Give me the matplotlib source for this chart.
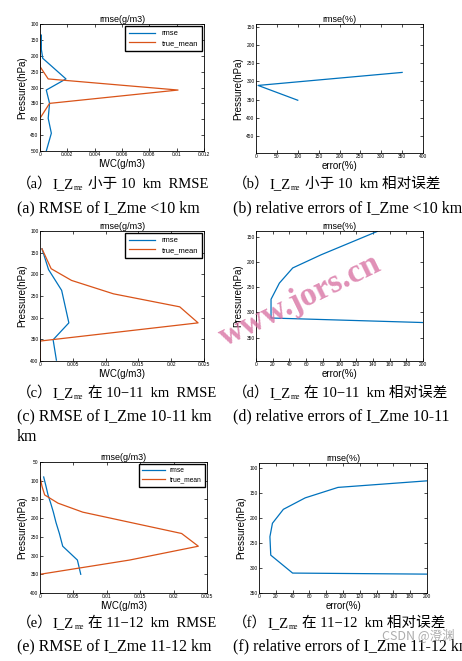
import matplotlib
matplotlib.use('Agg')
import matplotlib.pyplot as plt

plt.rcParams['font.family'] = ['Liberation Sans', 'DejaVu Sans']

# (a) I_Zme < 10 km, IWC
a_rmse_p = [135, 180, 208, 273, 308, 350, 397, 444, 500]
a_rmse = [0.0001, 0.0001, 0.0002, 0.0019, 0.00046, 0.0007, 0.0006, 0.00083, 0.00046]
a_true_p = [135, 234, 273, 308, 350, 397, 500]
a_true = [0, 0, 0.0006, 0.0101, 0.0007, 0, 0]

# (b) relative error < 10 km
b_p = [275, 311, 352]
b_err = [350, 5, 100]

# (c) 10-11 km
c_rmse_p = [141, 189, 237, 312, 351, 398]
c_rmse = [0.0003, 0.0013, 0.0033, 0.0044, 0.002, 0.0025]
c_true_p = [141, 187, 214, 245, 275, 312, 354, 400]
c_true = [0.0003, 0.0017, 0.0048, 0.0112, 0.0213, 0.0241, 0, 0]

# (d)
d_p = [140, 186, 212, 242, 274, 311, 351]
d_err = [145, 78, 44, 28, 18, 18, 830]

# (e) 11-12 km
e_rmse_p = [90, 115, 138, 160, 184, 212, 241, 275, 312, 350]
e_rmse = [0.00055, 0.0009, 0.0012, 0.0016, 0.002, 0.0024, 0.0029, 0.0034, 0.0056, 0.0061]
e_true_p = [90, 115, 138, 160, 184, 241, 275, 312, 350]
e_true = [0, 0.0003, 0.0007, 0.0027, 0.0064, 0.0212, 0.0237, 0.0134, 0]

# (f)
f_p = [115, 139, 160, 183, 211, 238, 275, 311, 350]
f_err = [287, 94, 55, 29, 16, 13, 14, 40, 3000]

cap_tag = ['（a）', '（b）', '（c）', '（d）', '（e）', '（f）']
cap_cn = ['小于 10  km  RMSE', '小于 10  km 相对误差',
          '在 10−11  km  RMSE', '在 10−11  km 相对误差',
          '在 11−12  km  RMSE', '在 11−12  km 相对误差']
cap_en = ['(a) RMSE of I_Zme <10 km', '(b) relative errors of I_Zme <10 km',
          '(c) RMSE of I_Zme 10-11 km', '(d) relative errors of I_Zme 10-11',
          '(e) RMSE of I_Zme 11-12 km', '(f) relative errors of I_Zme 11-12 km']

blue = '#0072BD'
red = '#D95319'
W, H = 462, 661

fig = plt.figure(figsize=(W / 100, H / 100), dpi=100)
renderer = fig.canvas.get_renderer()


def box(l, r, t, b):
    return [l / W, 1 - b / H, (r - l) / W, (b - t) / H]


def style(ax, title, xlabel, yticks, xticks):
    ax.set_title(title, fontsize=6.5, pad=1.5)
    ax.set_ylabel('Pressure(hPa)', fontsize=7, labelpad=2)
    ax.set_xlabel(xlabel, fontsize=7, labelpad=1)
    ax.set_yticks(yticks)
    ax.set_xticks(xticks)
    ax.set_xticklabels([('%g' % v) for v in xticks])
    ax.tick_params(direction='in', top=True, right=True, labelsize=3.5, length=2, width=0.5, pad=1)
    for s in ax.spines.values():
        s.set_linewidth(0.6)


def iwc_panel(pos, rp, rv, tp, tv, xlim, xticks, ylim, yticks, lsize):
    ax = fig.add_axes(pos)
    ax.plot(rv, rp, color=blue, lw=0.9, label='rmse')
    ax.plot(tv, tp, color=red, lw=0.9, label='true_mean')
    ax.set_xlim(*xlim)
    ax.set_ylim(ylim[1], ylim[0])
    style(ax, 'rmse(g/m3)', 'IWC(g/m3)', yticks, xticks)
    ax.legend(loc='upper right', fontsize=lsize, handlelength=3.4, borderaxespad=0.3,
              borderpad=0.5, labelspacing=0.3, fancybox=False, edgecolor='black',
              framealpha=1)
    return ax


def err_panel(pos, p, v, ylim, yticks, xlim, xticks):
    ax = fig.add_axes(pos)
    ax.plot(v, p, color=blue, lw=0.9)
    ax.set_xlim(*xlim)
    ax.set_ylim(ylim[1], ylim[0])
    style(ax, 'rmse(%)', 'error(%)', yticks, xticks)
    return ax


iwc_panel(box(40, 204, 24, 151), a_rmse_p, a_rmse, a_true_p, a_true,
          (0, 0.012), [0, 0.002, 0.004, 0.006, 0.008, 0.01, 0.012], (100, 500),
          range(100, 501, 50), 5.5)
err_panel(box(256, 423, 24, 153), b_p, b_err, (141, 498), range(150, 451, 50),
          (0, 400), range(0, 401, 50))
iwc_panel(box(40, 204, 231, 361), c_rmse_p, c_rmse, c_true_p, c_true,
          (0, 0.025), [0, 0.005, 0.01, 0.015, 0.02, 0.025], (100, 400),
          range(100, 401, 50), 5.5)
err_panel(box(256, 423, 231, 361), d_p, d_err, (139, 396), range(150, 351, 50),
          (0, 200), range(0, 201, 20))
iwc_panel(box(40, 207, 462, 593), e_rmse_p, e_rmse, e_true_p, e_true,
          (0, 0.025), [0, 0.005, 0.01, 0.015, 0.02, 0.025], (50, 400),
          range(50, 401, 50), 4.8)
err_panel(box(259, 427, 463, 593), f_p, f_err, (90, 351), range(100, 351, 50),
          (0, 200), range(0, 201, 20))

serif = ['Liberation Serif', 'Noto Sans CJK SC']


def put(x, y, s, size, gap):
    # draw a piece of text at pixel x, return x after it
    t = fig.text(x / W, 1 - y / H, s, family=serif, fontsize=size, va='baseline')
    return x + t.get_window_extent(renderer).width + gap


rows = [(188, 212), (397, 420), (627, 650)]
for i, (ycn, yen) in enumerate(rows):
    for j, x0 in enumerate([17, 233]):
        k = i * 2 + j
        x = put(x0, ycn, cap_tag[k], 10.5, 0)
        x = put(x, ycn, 'I_Z', 10.5, 0.5)
        x = put(x, ycn + 2, 'me', 5.5, 4)
        put(x, ycn, cap_cn[k], 10.5, 0)
        fig.text(x0 / W, 1 - yen / H, cap_en[k], family=serif, fontsize=11.5, va='baseline')
fig.text(17 / W, 1 - 441 / H, 'km', family=serif, fontsize=11.5, va='baseline')

# watermarks
fig.text(300 / W, 1 - 300 / H, 'www.jors.cn', family='Liberation Serif', fontsize=24,
         fontweight='bold', color='#d66a9e', alpha=0.75, rotation=26, ha='center', va='center')
fig.text(455 / W, 1 - 636 / H, 'CSDN @澄渊', family=['Noto Sans CJK SC', 'DejaVu Sans'],
         fontsize=9, color='#999999', alpha=0.8, ha='right', va='center')

fig.savefig('out.png', dpi=100)
